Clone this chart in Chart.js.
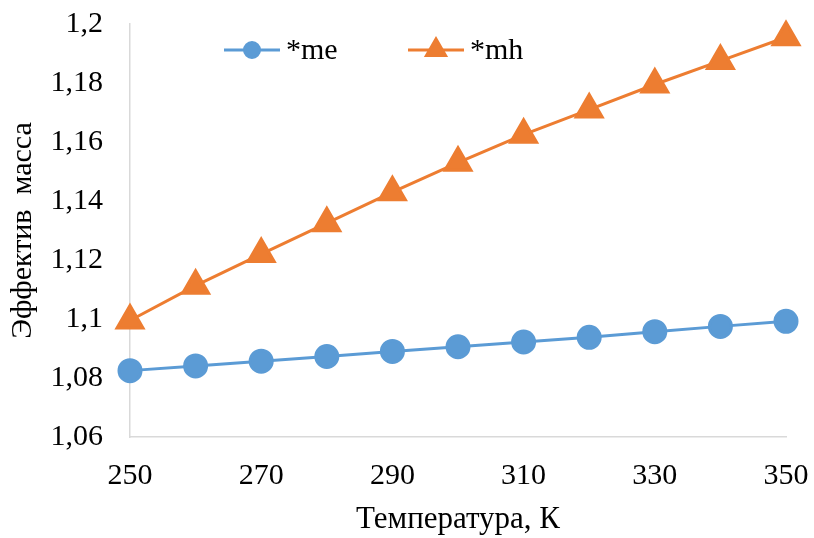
<!DOCTYPE html>
<html>
<head>
<meta charset="utf-8">
<script src="https://cdn.jsdelivr.net/npm/chart.js@4/dist/chart.umd.min.js"></script>
<style>
  html, body { margin: 0; padding: 0; background: #fff; }
  #wrap { width: 814px; height: 538px; }
</style>
</head>
<body>
<div id="wrap"><canvas id="grafica"></canvas></div>
<script>
// temperatura, K
const temperaturas = [250, 260, 270, 280, 290, 300, 310, 320, 330, 340, 350];
// effektiv massa
const masaMe = [1.0825, 1.0841, 1.0857, 1.0873, 1.0890, 1.0906, 1.0922, 1.0938, 1.0957, 1.0975, 1.0992];
const masaMh = [1.0995, 1.1113, 1.1220, 1.1325, 1.1430, 1.1530, 1.1625, 1.1710, 1.1795, 1.1875, 1.1955];
const etiquetasSeries = ['*me', '*mh'];
const ticksX = [250, 270, 290, 310, 330, 350];
const ticksY = [1.06, 1.08, 1.1, 1.12, 1.14, 1.16, 1.18, 1.2];

const fuente = 'Liberation Serif, Times New Roman, serif';
const azul = '#5B9BD5';
const naranja = '#ED7D31';
const gris = '#D9D9D9';

const puntos = (xs, ys) => xs.map((x, i) => ({ x: x, y: ys[i] }));

// leyenda dibujada dentro del area del grafico
const leyendaInterna = {
  id: 'leyendaInterna',
  afterDraw(chart) {
    const ctx = chart.ctx;
    const area = chart.chartArea;
    const y = area.top + 26;
    const inicios = [area.left + 94, area.left + 278];
    ctx.save();
    chart.data.datasets.forEach((ds, i) => {
      const x0 = inicios[i];
      ctx.strokeStyle = ds.borderColor;
      ctx.fillStyle = ds.backgroundColor;
      ctx.lineWidth = 3;
      ctx.beginPath();
      ctx.moveTo(x0, y);
      ctx.lineTo(x0 + 56, y);
      ctx.stroke();
      Chart.helpers.drawPoint(ctx, {
        pointStyle: ds.pointStyle,
        radius: ds.pointStyle === 'triangle' ? 11 : 7.5,
        rotation: 0,
        borderWidth: 1
      }, x0 + 28, y);
      ctx.fillStyle = '#000';
      ctx.font = '30px ' + fuente;
      ctx.textBaseline = 'middle';
      ctx.fillText(ds.label, x0 + 62, y + 1);
    });
    ctx.restore();
  }
};

new Chart(document.getElementById('grafica'), {
  type: 'line',
  data: {
    datasets: [
      {
        label: etiquetasSeries[0],
        data: puntos(temperaturas, masaMe),
        borderColor: azul,
        backgroundColor: azul,
        borderWidth: 3,
        pointStyle: 'circle',
        pointRadius: 11,
        pointHoverRadius: 11,
        clip: false
      },
      {
        label: etiquetasSeries[1],
        data: puntos(temperaturas, masaMh),
        borderColor: naranja,
        backgroundColor: naranja,
        borderWidth: 3,
        pointStyle: 'triangle',
        pointRadius: 15,
        pointHoverRadius: 15,
        clip: false
      }
    ]
  },
  options: {
    responsive: true,
    maintainAspectRatio: false,
    animation: false,
    layout: { padding: { top: 24, right: 28, left: 0, bottom: 0 } },
    plugins: {
      legend: { display: false },
      tooltip: { enabled: false }
    },
    scales: {
      x: {
        type: 'linear',
        min: 250,
        max: 350,
        afterBuildTicks: (s) => { s.ticks = ticksX.map(v => ({ value: v })); },
        afterFit: (s) => { s.height = 101; s.paddingLeft = 0; s.paddingRight = 0; },
        grid: { display: false, drawTicks: false },
        border: { display: true, color: gris, width: 1.5 },
        ticks: {
          color: '#000',
          padding: 21,
          maxRotation: 0,
          font: { family: fuente, size: 30 }
        },
        title: {
          display: true,
          text: 'Температура, К',
          color: '#000',
          padding: 0,
          font: { family: fuente, size: 31 }
        }
      },
      y: {
        min: 1.06,
        max: 1.2,
        afterBuildTicks: (s) => { s.ticks = ticksY.map(v => ({ value: v })); },
        afterFit: (s) => { s.width = 130; s.paddingTop = 0; s.paddingBottom = 0; },
        grid: { display: false, drawTicks: false },
        border: { display: true, color: gris, width: 1.5 },
        ticks: {
          color: '#000',
          padding: 27,
          font: { family: fuente, size: 30 },
          callback: (v) => String(Number(v.toFixed(2))).replace('.', ',')
        },
        title: {
          display: true,
          text: 'Эффектив  масса',
          color: '#000',
          padding: 5,
          font: { family: fuente, size: 30 }
        }
      }
    }
  },
  plugins: [leyendaInterna]
});
</script>
</body>
</html>
